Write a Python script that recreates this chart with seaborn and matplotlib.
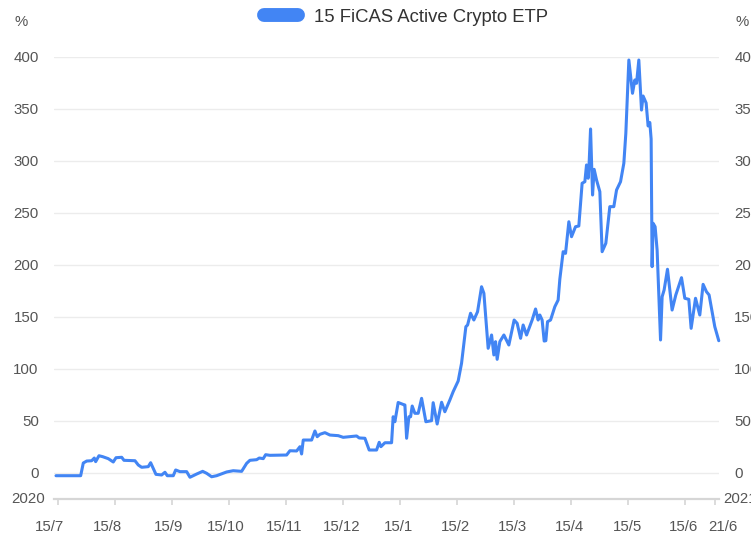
import matplotlib
matplotlib.use('Agg')
import matplotlib.pyplot as plt
import matplotlib.transforms as mtransforms
from matplotlib.lines import Line2D
import seaborn as sns
import pandas as pd

# Datos (posicion en meses desde 15/7/2020, rendimiento en %)
meses = [-0.035, 0.398, 0.444, 0.504, 0.591, 0.637, 0.661, 0.719, 0.784, 0.882,
         0.970, 1.018, 1.118, 1.158, 1.351, 1.409, 1.468, 1.584, 1.626, 1.719,
         1.819, 1.877, 1.918, 2.023, 2.065, 2.140, 2.258, 2.316, 2.433, 2.539,
         2.609, 2.696, 2.784, 2.960, 3.075, 3.223, 3.311, 3.368, 3.486, 3.532,
         3.602, 3.644, 3.719, 4.012, 4.070, 4.188, 4.246, 4.275, 4.304, 4.451,
         4.509, 4.549, 4.596, 4.684, 4.772, 4.918, 5.005, 5.240, 5.286, 5.386,
         5.461, 5.591, 5.637, 5.667, 5.737, 5.854, 5.882, 5.912, 5.970, 6.058,
         6.088, 6.118, 6.158, 6.188, 6.216, 6.263, 6.321, 6.381, 6.456, 6.556,
         6.584, 6.654, 6.732, 6.789, 6.877, 6.935, 7.023, 7.082, 7.158, 7.188,
         7.240, 7.298, 7.363, 7.433, 7.474, 7.549, 7.609, 7.649, 7.679, 7.707,
         7.754, 7.825, 7.912, 8.005, 8.058, 8.118, 8.163, 8.223, 8.321, 8.381,
         8.426, 8.456, 8.496, 8.532, 8.561, 8.591, 8.644, 8.719, 8.777, 8.807,
         8.865, 8.907, 8.965, 9.012, 9.082, 9.140, 9.198, 9.246, 9.275, 9.304,
         9.321, 9.346, 9.381, 9.409, 9.451, 9.509, 9.549, 9.614, 9.684, 9.754,
         9.802, 9.872, 9.930, 9.965, 10.018, 10.082, 10.123, 10.153, 10.193, 10.240,
         10.268, 10.321, 10.356, 10.386, 10.409, 10.426, 10.444, 10.479, 10.514, 10.574,
         10.602, 10.637, 10.696, 10.777, 10.842, 10.942, 11.000, 11.070, 11.111, 11.188,
         11.263, 11.321, 11.380, 11.426, 11.526, 11.596]

rendimiento = [-2.6, -2.6, 9.6, 11.5, 11.8, 14.4, 10.9, 16.6, 15.7, 13.8,
               10.6, 14.7, 15.1, 12.2, 11.8, 7.7, 5.5, 6.1, 9.9, -1.3,
               -1.9, 0.7, -2.6, -2.6, 2.9, 1.3, 1.3, -4.1, -1.0, 1.6,
               -0.3, -3.6, -2.6, 1.0, 2.2, 1.6, 9.3, 12.2, 12.8, 14.4,
               13.8, 17.6, 17.0, 17.3, 21.4, 21.2, 25.3, 18.3, 31.7, 31.7,
               40.4, 34.9, 37.2, 38.8, 36.5, 35.9, 34.3, 35.6, 33.7, 33.4,
               22.1, 22.1, 29.5, 25.3, 29.1, 29.1, 54.1, 49.3, 67.8, 65.9,
               65.4, 33.4, 54.1, 54.1, 64.4, 57.4, 57.4, 71.8, 49.3, 50.3,
               67.6, 47.1, 68.0, 58.9, 70.2, 78.2, 88.5, 105.5, 140.7, 142.3,
               153.6, 147.1, 155.1, 179.1, 172.8, 119.9, 132.7, 113.5, 126.3, 109.3,
               126.3, 132.7, 123.1, 147.1, 143.9, 129.5, 142.3, 132.7, 147.1, 157.7,
               147.1, 151.9, 147.1, 126.9, 127.2, 145.5, 147.1, 159.9, 166.3, 186.5,
               212.8, 211.2, 241.6, 227.2, 236.8, 237.5, 278.6, 280.1, 296.2, 283.4,
               297.8, 330.8, 267.3, 292.0, 281.7, 270.5, 212.8, 220.9, 256.1, 256.1,
               272.1, 280.1, 297.8, 326.6, 397.1, 365.1, 377.9, 374.7, 397.1, 349.0,
               362.5, 355.8, 333.7, 337.0, 321.2, 198.4, 240.1, 236.8, 214.4, 127.9,
               169.5, 176.0, 195.9, 156.7, 171.2, 187.8, 168.0, 167.0, 139.1, 168.0,
               151.9, 181.4, 174.3, 171.2, 140.7, 127.2]

etiquetas_x = ['15/7', '15/8', '15/9', '15/10', '15/11', '15/12',
               '15/1', '15/2', '15/3', '15/4', '15/5', '15/6', '21/6']
pos_x = [0, 1, 2, 3, 4, 5, 6, 7, 8, 9, 10, 11, 11.53]
desplaz_x = [-8, -8, -3, -3, -2, -1, -1, -1, -1, -1, 0, -1, 8]  # px
ticks_y = [0, 50, 100, 150, 200, 250, 300, 350, 400]

serie = '15 FiCAS Active Crypto ETP'
azul = '#4285f4'
gris = '#555555'
fs = 10.8

df = pd.DataFrame({'mes': meses, 'pct': rendimiento})

sns.set_style('white')
plt.rcParams['font.family'] = ['Liberation Sans', 'DejaVu Sans']

fig = plt.figure(figsize=(7.51, 5.34), dpi=100)
ax = fig.add_axes([54 / 751, (534 - 499) / 534, 665 / 751, 442 / 534])

sns.lineplot(data=df, x='mes', y='pct', color=azul, linewidth=2.2, ax=ax,
             clip_on=False, zorder=3)

ax.set_xlim(-0.07, 11.6)
ax.set_ylim(-25, 400)
ax.set_xlabel('')
ax.set_ylabel('')

# lineas de la grilla horizontales
for v in ticks_y:
    ax.axhline(v, color='#ececec', linewidth=1, zorder=1)

for s in ['top', 'right', 'left']:
    ax.spines[s].set_visible(False)
ax.spines['bottom'].set_color('#d6d6d6')
ax.spines['bottom'].set_linewidth(1.6)

ax.set_yticks(ticks_y)
ax.set_yticklabels([str(v) for v in ticks_y])
ax.tick_params(axis='y', length=0, labelsize=fs, labelcolor=gris, pad=11,
               labelleft=True, labelright=True)

# marcas del eje x; las etiquetas van como texto aparte
ax.set_xticks(pos_x)
ax.set_xticklabels([''] * len(pos_x))
ax.tick_params(axis='x', length=4, width=1.2, color='#d6d6d6', bottom=True)

trans_x = mtransforms.blended_transform_factory(ax.transData, fig.transFigure)
for p, lab, dx in zip(pos_x, etiquetas_x, desplaz_x):
    t = trans_x + mtransforms.ScaledTranslation(dx / 100, 0, fig.dpi_scale_trans)
    ax.text(p, 1 - 527 / 534, lab, transform=t, ha='center', va='center',
            fontsize=fs, color=gris, clip_on=False)

# textos extra: unidades y anio
fig.text(21 / 751, 1 - 22 / 534, '%', ha='center', va='center', fontsize=fs, color=gris)
fig.text(736 / 751, 1 - 22 / 534, '%', ha='left', va='center', fontsize=fs, color=gris)
fig.text(45 / 751, 1 - 499 / 534, '2020', ha='right', va='center', fontsize=fs, color=gris)
fig.text(723 / 751, 1 - 499 / 534, '2021', ha='left', va='center', fontsize=fs, color=gris)

# leyenda con marcador redondeado
handle = Line2D([0], [0], color=azul, linewidth=10, solid_capstyle='round')
ax.legend([handle], [serie], loc='center', bbox_to_anchor=(406 / 751, 1 - 17 / 534),
          bbox_transform=fig.transFigure, frameon=False, fontsize=13.3,
          handlelength=1.85, handletextpad=0.85, labelcolor='#333333')

plt.savefig('out.png', dpi=100)
